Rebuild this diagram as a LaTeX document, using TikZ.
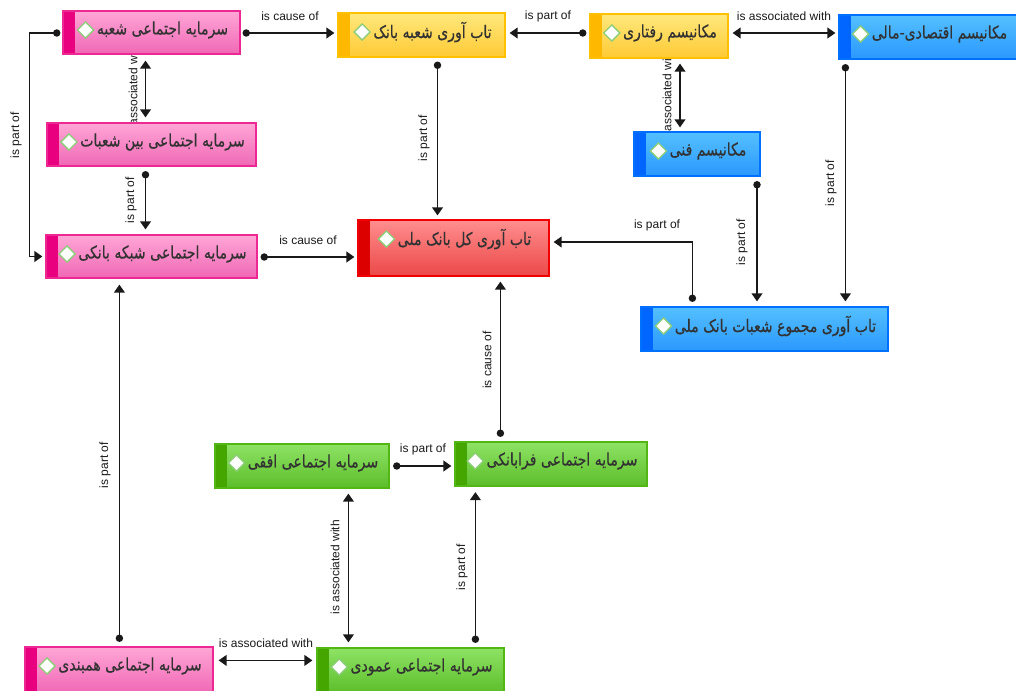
\documentclass[tikz,border=0pt]{standalone}
\usepackage{fontspec}
\setmainfont{Liberation Sans}
\newfontfamily\arabicfont[Script=Arabic, FakeStretch=0.81, FakeBold=0.4]{DejaVu Sans}
\TeXXeTstate=1
\usetikzlibrary{arrows.meta,shapes.geometric,fit,calc}
\pgfdeclarelayer{background}
\pgfsetlayers{background,main}
\definecolor{PKtop}{RGB}{255,166,214}\definecolor{PKbot}{RGB}{240,104,182}\definecolor{PKstripe}{RGB}{232,0,126}\definecolor{PKborder}{RGB}{238,40,146}
\definecolor{YLtop}{RGB}{255,232,125}\definecolor{YLbot}{RGB}{255,202,52}\definecolor{YLstripe}{RGB}{255,184,0}\definecolor{YLborder}{RGB}{255,192,0}
\definecolor{BLtop}{RGB}{84,192,255}\definecolor{BLbot}{RGB}{42,152,255}\definecolor{BLstripe}{RGB}{0,102,255}\definecolor{BLborder}{RGB}{0,112,255}
\definecolor{RDtop}{RGB}{255,142,142}\definecolor{RDbot}{RGB}{236,72,72}\definecolor{RDstripe}{RGB}{220,0,0}\definecolor{RDborder}{RGB}{240,0,0}
\definecolor{GRtop}{RGB}{142,226,100}\definecolor{GRbot}{RGB}{92,190,42}\definecolor{GRstripe}{RGB}{70,166,0}\definecolor{GRborder}{RGB}{82,182,20}
\definecolor{lineC}{RGB}{25,25,25}
\definecolor{txtC}{RGB}{50,50,50}
\definecolor{dmdC}{RGB}{140,205,120}
\tikzset{
  box/.style={inner sep=0pt, draw=#1border, line width=0.9pt, top color=#1top, bottom color=#1bot},
  ntext/.style={inner sep=0pt, text=txtC, font=\arabicfont\fontsize{13}{15}\selectfont},
  dmd/.style={diamond, draw=dmdC, fill=white, line width=1pt, minimum width=12.5pt, minimum height=12.5pt, inner sep=0pt},
  lbl/.style={inner sep=0pt, text=lineC, font=\fontsize{9}{10}\selectfont},
  conn/.style={draw=lineC, line width=1.3pt},
  dotarrow/.style={conn, {Circle[length=5.5pt]}-{Triangle[length=6pt,width=8pt]}},
  dblarrow/.style={conn, {Triangle[length=6pt,width=8pt]}-{Triangle[length=6pt,width=8pt]}}
}
\newcommand\kbox[7]{%
  \node[box=#2, fit={(#3,#4)(#5,#6)}] (#1) {};
  \fill[#2stripe] (#3,#4) rectangle ({#3+12},#6);
  \draw[#2border, line width=0.9pt] (#3,#4) rectangle (#5,#6);
  \node[ntext] (#1t) at ({(#3+#5)/2+11},{#4+19}) {#7};
  \node[dmd, anchor=east] (#1d) at ($(#1t.west)+(-2,0)$) {};
}
\begin{document}
\begin{tikzpicture}[x=0.75pt,y=-0.75pt]
\useasboundingbox (0,0) rectangle (1016,691);
\kbox{shobe}{PK}{63}{11}{240}{54}{\beginR سرمایه اجتماعی شعبه\endR}
\kbox{bein}{PK}{47}{123}{256}{166}{\beginR سرمایه اجتماعی بین شعبات\endR}
\kbox{shabake}{PK}{46}{235}{257}{278}{\beginR سرمایه اجتماعی شبکه بانکی\endR}
\kbox{tabshobe}{YL}{338}{13}{505}{57}{\beginR تاب آوری شعبه بانک\endR}
\kbox{raftari}{YL}{590}{14}{728}{58}{\beginR مکانیسم رفتاری\endR}
\kbox{eqtesadi}{BL}{839}{15}{1018}{59}{\beginR مکانیسم اقتصادی-مالی\endR}
\kbox{fanni}{BL}{634}{132}{760}{176}{\beginR مکانیسم فنی\endR}
\kbox{kol}{RD}{358}{220}{549}{276}{\beginR تاب آوری کل بانک ملی\endR}
\kbox{majmu}{BL}{641}{307}{888}{351}{\beginR تاب آوری مجموع شعبات بانک ملی\endR}
\kbox{ofoqi}{GR}{215}{444}{389}{488}{\beginR سرمایه اجتماعی افقی\endR}
\kbox{farabanki}{GR}{455}{442}{647}{486}{\beginR سرمایه اجتماعی فرابانکی\endR}
\kbox{amudi}{GR}{317}{648}{504}{693}{\beginR سرمایه اجتماعی عمودی\endR}
\kbox{hambandi}{PK}{25}{647}{213}{693}{\beginR سرمایه اجتماعی همبندی\endR}
\begin{pgfonlayer}{background}
% edges
\draw[dotarrow] ($(shobe.east)+(2,0.5)$) coordinate (s1) -- ($(s1 -| tabshobe.west)+(-3,0)$);
\draw[dotarrow] ($(shobe.west)+(-2,0.5)$) -| ($(shabake.west)+(-16,0)$) -- ($(shabake.west)+(-3,0)$);
\draw[dblarrow] ($(shobe.south)+(-6,6)$) -- ($(bein.north)+(-6,-5)$);
\draw[dotarrow] ($(bein.south)+(-6,4.5)$) -- ($(shabake.north)+(-6,-5)$);
\draw[dotarrow] ($(shabake.east)+(3,0.5)$) coordinate (s5) -- ($(s5 -| kol.west)+(-3,0)$);
\draw[dotarrow] ($(tabshobe.south)+(16,4)$) coordinate (s6) -- ($(s6 |- kol.north)+(0,-4)$);
\draw[dotarrow] ($(raftari.west)+(-3,-3)$) coordinate (s7) -- ($(s7 -| tabshobe.east)+(4,0)$);
\draw[dblarrow] ($(raftari.east)+(4,-3)$) coordinate (s8) -- ($(s8 -| eqtesadi.west)+(-3,0)$);
\draw[dblarrow] ($(raftari.south)+(21,5)$) coordinate (s9) -- ($(s9 |- fanni.north)+(0,-4)$);
\draw[dotarrow] ($(fanni.south)+(60,4.5)$) coordinate (s10) -- ($(s10 |- majmu.north)+(0,-5)$);
\draw[dotarrow] ($(eqtesadi.south west)+(7,4.5)$) coordinate (s11) -- ($(s11 |- majmu.north)+(0,-5)$);
\draw[dotarrow] ($(majmu.north west)+(52,-4.5)$) |- ($(kol.east)+(4,-6)$);
\draw[dotarrow] ($(farabanki.north west)+(46,-4.5)$) coordinate (s13) -- ($(s13 |- kol.south)+(0,5)$);
\draw[dotarrow] ($(ofoqi.east)+(3.5,0)$) coordinate (s14) -- ($(s14 -| farabanki.west)+(-3,0)$);
\draw[dblarrow] ($(ofoqi.south west)+(134,5)$) coordinate (s15) -- ($(s15 |- amudi.north)+(0,-5)$);
\draw[dotarrow] ($(amudi.north west)+(159,-4.5)$) coordinate (s16) -- ($(s16 |- farabanki.south)+(0,5.5)$);
\draw[dotarrow] ($(hambandi.north west)+(95,-4.5)$) coordinate (s17) -- ($(s17 |- shabake.south)+(0,6)$);
\draw[dblarrow] ($(hambandi.north east)+(5,14)$) coordinate (s18) -- ($(s18 -| amudi.west)+(-4,0)$);
% labels
\node[lbl] (l1) at (290,16) {is cause of};
\node[lbl, rotate=90] (l2) at (16,135) {is part of};
\node[lbl, rotate=90] (l3) at (133,90) {is associated with};
\node[lbl, rotate=90] (l4) at (131,200) {is part of};
\node[lbl] (l5) at (308,240) {is cause of};
\node[lbl, rotate=90] (l6) at (424,138) {is part of};
\node[lbl] (l7) at (548,16) {is part of};
\node[lbl] (l8) at (784,16) {is associated with};
\node[lbl, rotate=90] (l9) at (667,96) {is associated with};
\node[lbl, rotate=90] (l10) at (742,242) {is part of};
\node[lbl, rotate=90] (l11) at (831,183) {is part of};
\node[lbl] (l12) at (657,225) {is part of};
\node[lbl, rotate=90] (l13) at (487,360) {is cause of};
\node[lbl] (l14) at (423,449) {is part of};
\node[lbl, rotate=90] (l15) at (335,567) {is associated with};
\node[lbl, rotate=90] (l16) at (462,567) {is part of};
\node[lbl, rotate=90] (l17) at (105,465) {is part of};
\node[lbl] (l18) at (266,643) {is associated with};
\end{pgfonlayer}
\end{tikzpicture}
\end{document}
